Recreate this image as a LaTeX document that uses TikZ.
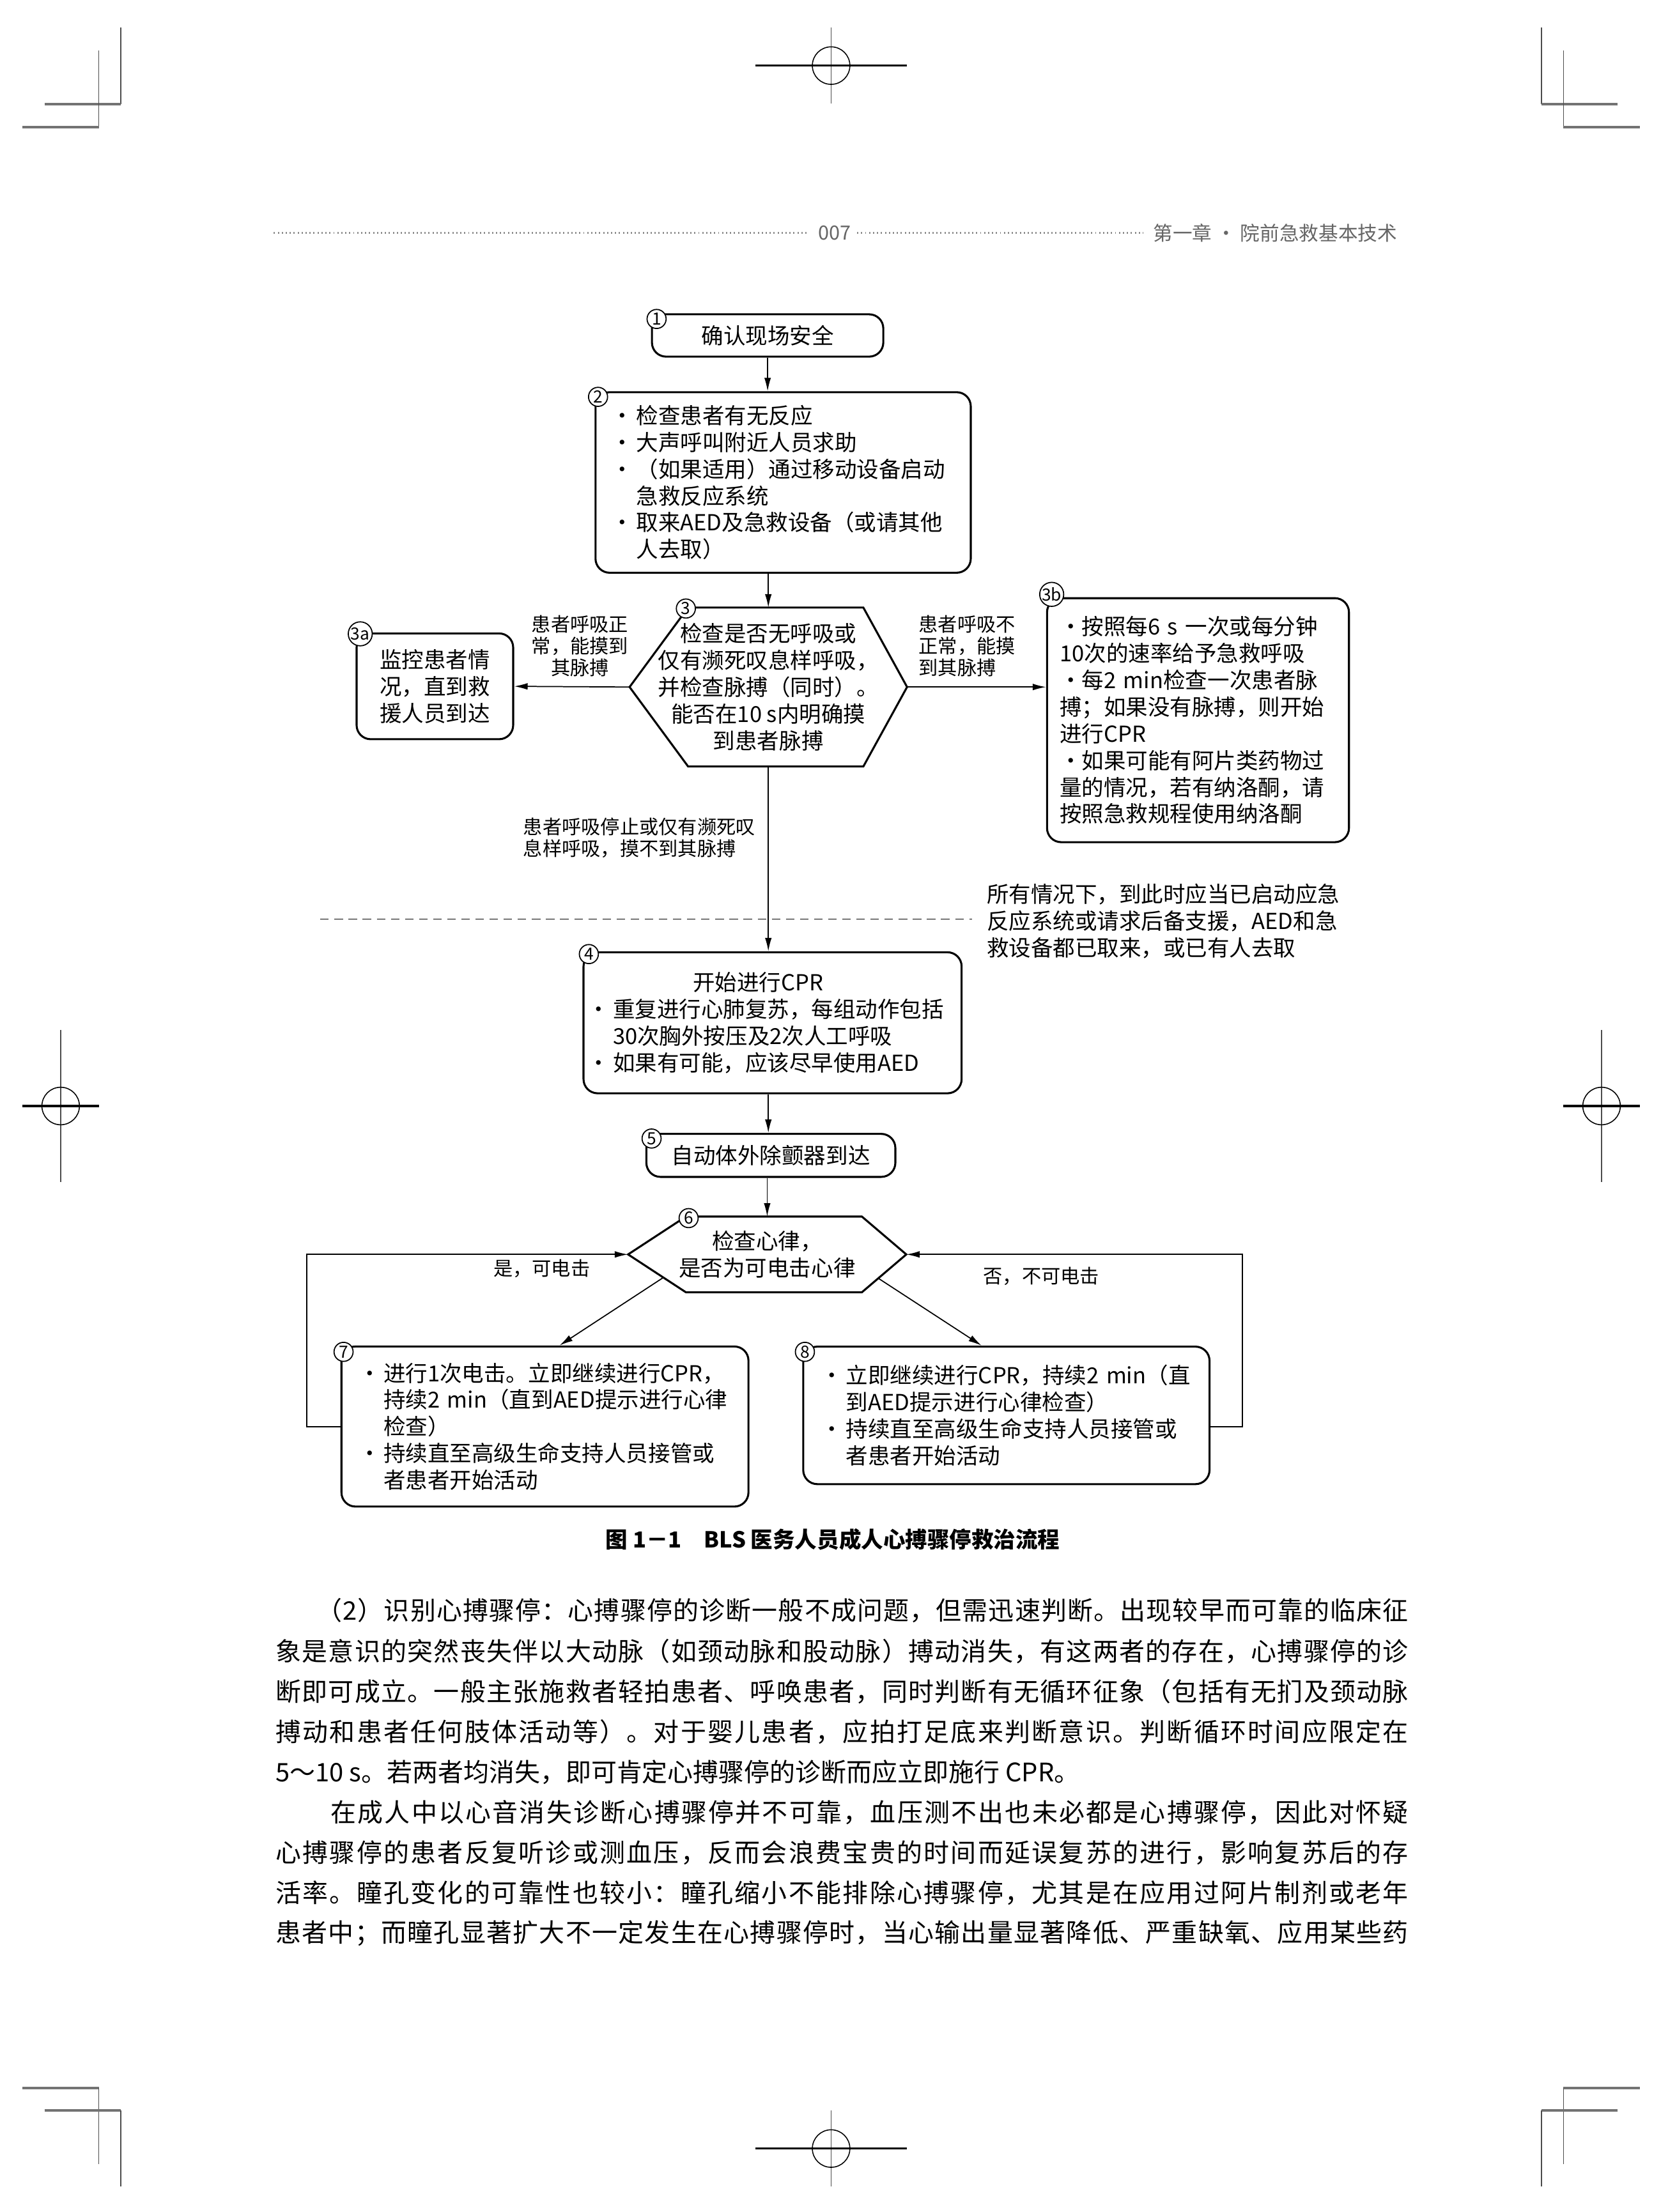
\documentclass[tikz,border=0pt]{standalone}
\usepackage{fontspec}
\setmainfont{Noto Sans CJK SC}
\usetikzlibrary{arrows.meta,calc}
\newcommand{\boxfont}{\fontsize{8.9}{10.8}\selectfont}
\newcommand{\tagfont}{\fontsize{7.8}{8.8}\selectfont}
\newcommand{\dotmark}{\makebox[1.27em][c]{·}}
\newcommand{\dotmarkb}{\makebox[1em][c]{·}}
\newcommand{\indmark}{\hspace*{1.27em}}
% justified body line: glue between every two characters
\newcommand{\jline}[2]{\hbox to #1{\jfirst#2\relax}}
\def\jfirst#1{#1\jrest}
\def\jrest#1{\ifx#1\relax\else\hskip 0pt plus 1pt#1\expandafter\jrest\fi}

\begin{document}
\begin{tikzpicture}[x=0.02cm, y=-0.02cm, >={Latex[length=1.9mm,width=0.95mm]},
  box/.style={draw, line width=0.8pt, rounded corners=0.2cm, inner ysep=0pt, font=\boxfont, align=left},
  hexa/.style={inner sep=0pt, font=\boxfont, align=center},
  boxline/.style={line width=0.8pt, line join=miter},
  num/.style={circle, draw, fill=white, line width=0.45pt, minimum size=0.27cm, inner sep=0pt, font=\fontsize{6.8}{6.8}\selectfont},
  tag/.style={inner sep=0pt, font=\tagfont},
  edge/.style={->, line width=0.45pt},
  bodyline/.style={anchor=west, inner sep=0pt, font=\fontsize{10.3}{12}\selectfont},
  cropv/.style={line width=0.35pt, black!70},
  croph/.style={line width=1pt, black!55},
  dotline/.style={line width=0.7pt, black!45, dash pattern=on 0.5pt off 1.1pt}
]
\path[fill=white, use as bounding box] (0,0) rectangle (1177,1568);

% crop and registration marks
\foreach \m in {1,-1}{
  \draw[cropv] ({589-\m*503.4},19.7) -- ({589-\m*503.4},74);
  \draw[croph] ({589-\m*557.5},74) -- ({589-\m*503.4},74);
  \draw[cropv] ({589-\m*519},36) -- ({589-\m*519},90);
  \draw[croph] ({589-\m*573},90) -- ({589-\m*519},90);
  \draw[croph] ({589-\m*573},1480) -- ({589-\m*519},1480);
  \draw[cropv] ({589-\m*519},1480) -- ({589-\m*519},1534);
  \draw[croph] ({589-\m*557.5},1496) -- ({589-\m*503.4},1496);
  \draw[cropv] ({589-\m*503.4},1496) -- ({589-\m*503.4},1550);
  \draw[cropv] ({589-\m*546},730) -- ({589-\m*546},838);
  \draw[line width=0.9pt] ({589-\m*573},784) -- ({589-\m*519},784);
  \draw[line width=0.4pt] ({589-\m*546},784) circle[radius=0.266cm];
}
\foreach \y in {46.5,1523}{
  \draw[cropv] (589,{\y-27}) -- (589,{\y+27});
  \draw[line width=0.9pt] (535.5,\y) -- (642.5,\y);
  \draw[line width=0.4pt] (589,\y) circle[radius=0.266cm];
}

% running head
\node[font=\fontsize{7.9}{9}\selectfont, text=black!60, inner sep=0pt] (pg) at (591.5,165) {007};
\node[font=\fontsize{7.9}{9}\selectfont, text=black!60, inner sep=0pt, anchor=west] (chap) at (817,165) {第一章 · 院前急救基本技术};
\draw[dotline] ([xshift=-0.16cm]pg.west) -- ++(-378,0);
\draw[dotline] ([xshift=0.08cm]pg.east) -- ([xshift=-0.14cm]chap.west);

% flow chart
\node[box, align=center, minimum width=3.28cm, minimum height=0.60cm] (b1) at (544,237.8) {确认现场安全};
\node[box, text width=4.96cm, inner xsep=0.18cm, minimum width=5.32cm, minimum height=2.56cm] (b2) at (555,342) {%
\dotmark 检查患者有无反应\\
\dotmark 大声呼叫附近人员求助\\
\dotmark （如果适用）通过移动设备启动\\
\indmark 急救反应系统\\
\dotmark 取来AED及急救设备（或请其他\\
\indmark 人去取）};
\node[hexa, minimum width=3.92cm, minimum height=2.24cm] (h3) at (544.5,487) {检查是否无呼吸或\\仅有濒死叹息样呼吸，\\并检查脉搏（同时）。\\能否在10 s内明确摸\\到患者脉搏};
\draw[boxline] ([xshift=0.83cm]h3.north west) coordinate (h3tl) -- ([xshift=-0.62cm]h3.north east) -- (h3.east)
  -- ([xshift=-0.62cm]h3.south east) -- ([xshift=0.83cm]h3.south west) -- (h3.west) -- cycle;
\node[box, align=center, minimum width=2.22cm, minimum height=1.50cm] (b3a) at (308.2,486.5) {监控患者情\\况，直到救\\援人员到达};
\node[box, text width=3.92cm, inner xsep=0.18cm, minimum width=4.28cm, minimum height=3.46cm] (b3b) at (849,510.5) {%
\dotmarkb 按照每6 s 一次或每分钟\\
10次的速率给予急救呼吸\\
\dotmarkb 每2 min检查一次患者脉\\
搏；如果没有脉搏，则开始\\
进行CPR\\
\dotmarkb 如果可能有阿片类药物过\\
量的情况，若有纳洛酮，请\\
按照急救规程使用纳洛酮};
\node[box, text width=5.32cm, inner xsep=0.02cm, minimum width=5.36cm, minimum height=2.0cm] (b4) at (547.5,725) {%
\hspace*{4.9em}开始进行CPR\\
\dotmark 重复进行心肺复苏，每组动作包括\\
\indmark 30次胸外按压及2次人工呼吸\\
\dotmark 如果有可能，应该尽早使用AED};
\node[box, align=center, minimum width=3.53cm, minimum height=0.61cm] (b5) at (546.3,819) {自动体外除颤器到达};
\node[hexa, minimum width=3.93cm, minimum height=1.06cm] (h6) at (543.7,889.2) {检查心律，\\是否为可电击心律};
\draw[boxline] ([xshift=0.82cm]h6.north west) coordinate (h6tl) -- ([xshift=-0.63cm]h6.north east) -- (h6.east)
  -- ([xshift=-0.63cm]h6.south east) coordinate (h6br) -- ([xshift=0.82cm]h6.south west) coordinate (h6bl) -- (h6.west) -- cycle;
\node[box, text width=5.37cm, inner xsep=0.2cm, minimum width=5.77cm, minimum height=2.27cm] (b7) at (386.2,1011.2) {%
\dotmark 进行1次电击。立即继续进行CPR，\\
\indmark 持续2 min（直到AED提示进行心律\\
\indmark 检查）\\
\dotmark 持续直至高级生命支持人员接管或\\
\indmark 者患者开始活动};
\node[box, text width=5.34cm, inner xsep=0.21cm, minimum width=5.76cm, minimum height=1.95cm] (b8) at (713.2,1003.3) {%
\dotmark 立即继续进行CPR，持续2 min（直\\
\indmark 到AED提示进行心律检查）\\
\dotmark 持续直至高级生命支持人员接管或\\
\indmark 者患者开始活动};

% connectors
\draw[edge] (b1.south) -- (b1.south |- b2.north);
\draw[edge] (h3.north |- b2.south) -- (h3.north);
\draw[edge] (h3.west) -- (b3a.east);
\draw[edge] (h3.east) -- (h3.east -| b3b.west);
\draw[edge] (h3.south) -- (h3.south |- b4.north);
\draw[edge] (h3.south |- b4.south) -- (h3.south |- b5.north);
\draw[edge] (h6.north |- b5.south) -- (h6.north);
\draw[edge] ($(h6.west)!0.61!(h6bl)$) -- ([xshift=0.206cm]b7.north);
\draw[edge] ($(h6.east)!0.63!(h6br)$) -- ([xshift=-0.35cm]b8.north);
\draw[edge] (b7.west) -- ++(-23.8,0) |- (h6.west);
\draw[edge] (b8.east |- b7.west) -- ++(22.5,0) |- (h6.east);
\draw[line width=0.45pt, dash pattern=on 0.12cm off 0.08cm] (227,651.5) -- (689,651.5);

% step numbers
\node[num] (c1) at ([shift={(4,4)}]b1.north west) {1};
\node[num] (c2) at ([shift={(2.5,4)}]b2.north west) {2};
\node[num] (c3) at ([shift={(-1.6,0.7)}]h3tl) {3};
\node[num, minimum size=0.34cm] (c3a) at ([shift={(3.3,1)}]b3a.north west) {3a};
\node[num, minimum size=0.34cm] (c3b) at ([shift={(4,-2)}]b3b.north west) {3b};
\node[num] (c4) at ([shift={(4.5,2)}]b4.north west) {4};
\node[num] (c5) at ([shift={(4.4,4)}]b5.north west) {5};
\node[num] (c6) at ([shift={(1.9,1.1)}]h6tl) {6};
\node[num] (c7) at ([shift={(2.2,4.5)}]b7.north west) {7};
\node[num] (c8) at ([shift={(1.9,4.4)}]b8.north west) {8};

% branch labels
\node[tag, align=center] (l3a) at (411,458) {患者呼吸正\\常，能摸到\\其脉搏};
\node[tag, align=left, anchor=west] (l3b) at (650.8,458) {患者呼吸不\\正常，能摸\\到其脉搏};
\node[tag, align=left, anchor=west] (l4) at (370.5,594) {患者呼吸停止或仅有濒死叹\\息样呼吸，摸不到其脉搏};
\node[inner sep=0pt, font=\boxfont, align=left, anchor=west] (note) at (699,653) {所有情况下，到此时应当已启动应急\\反应系统或请求后备支援，AED和急\\救设备都已取来，或已有人去取};
\node[tag] (yes) at (384,899) {是，可电击};
\node[tag] (no) at (738,904.5) {否，不可电击};

% caption
\node[inner sep=0pt, font=\fontsize{8.9}{10}\selectfont\bfseries] (cap) at (590.2,1091.2) {图 1－1\hspace{1em}BLS 医务人员成人心搏骤停救治流程};

% body text
\node[bodyline] (p1) at (224,1141.8) {\jline{15.48cm}{（2）识别心搏骤停：心搏骤停的诊断一般不成问题，但需迅速判断。出现较早而可靠的临床征}};
\node[bodyline] (p2) at (195,1170.4) {\jline{16.06cm}{象是意识的突然丧失伴以大动脉（如颈动脉和股动脉）搏动消失，有这两者的存在，心搏骤停的诊}};
\node[bodyline] (p3) at (195,1199.0) {\jline{16.06cm}{断即可成立。一般主张施救者轻拍患者、呼唤患者，同时判断有无循环征象（包括有无扪及颈动脉}};
\node[bodyline] (p4) at (195,1227.6) {\jline{16.06cm}{搏动和患者任何肢体活动等）。对于婴儿患者，应拍打足底来判断意识。判断循环时间应限定在}};
\node[bodyline] (p5) at (195,1256.2) {5～10 s。若两者均消失，即可肯定心搏骤停的诊断而应立即施行 CPR。};
\node[bodyline] (p6) at (234,1284.8) {\jline{15.28cm}{在成人中以心音消失诊断心搏骤停并不可靠，血压测不出也未必都是心搏骤停，因此对怀疑}};
\node[bodyline] (p7) at (195,1313.4) {\jline{16.06cm}{心搏骤停的患者反复听诊或测血压，反而会浪费宝贵的时间而延误复苏的进行，影响复苏后的存}};
\node[bodyline] (p8) at (195,1342.0) {\jline{16.06cm}{活率。瞳孔变化的可靠性也较小：瞳孔缩小不能排除心搏骤停，尤其是在应用过阿片制剂或老年}};
\node[bodyline] (p9) at (195,1370.6) {\jline{16.06cm}{患者中；而瞳孔显著扩大不一定发生在心搏骤停时，当心输出量显著降低、严重缺氧、应用某些药}};
\end{tikzpicture}
\end{document}
